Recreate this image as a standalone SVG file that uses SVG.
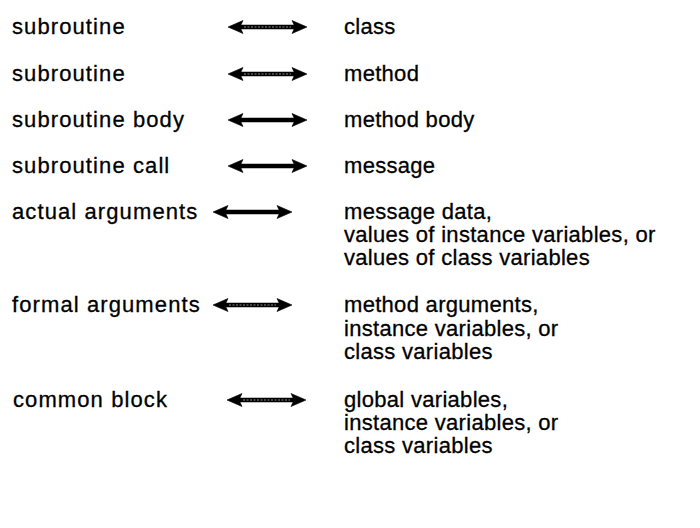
<svg xmlns="http://www.w3.org/2000/svg" width="700" height="528" viewBox="0 0 700 528">
  <defs>
    <style>
      text { font-family: "Liberation Sans", Arial, sans-serif; font-size: 22px; fill: #000; stroke: #000; stroke-width: 0.3px; }
      .lhs { letter-spacing: 1.1px; }
      .rhs { letter-spacing: 0.3px; }
      .shaft { stroke: #000; stroke-width: 4.5; }
      .core { stroke: #8c8c8c; stroke-width: 1; stroke-dasharray: 2 1.5; }
    </style>
    <!-- double-headed arrow, 79px long, drawn about its centre line -->
    <g id="dbl">
      <line class="shaft" x1="10" y1="0" x2="69" y2="0"/>
      <path d="M0 0 L15 -6.5 L12 0 L15 6.5 Z" fill="#000" stroke="#000" stroke-width="0.6" stroke-linejoin="round"/>
      <path d="M79 0 L64 -6.5 L67 0 L64 6.5 Z" fill="#000" stroke="#000" stroke-width="0.6" stroke-linejoin="round"/>
    </g>
    <g id="dbl-dotted">
      <use href="#dbl"/>
      <line class="core" x1="16" y1="0" x2="63" y2="0"/>
    </g>
  </defs>
  <rect width="700" height="528" fill="#fff"/>

  <g id="left-terms">
    <g id="n-subroutine-1"><text class="lhs" x="12" y="34">subroutine</text></g>
    <g id="n-subroutine-2"><text class="lhs" x="12" y="81">subroutine</text></g>
    <g id="n-subroutine-body"><text class="lhs" x="12" y="127">subroutine body</text></g>
    <g id="n-subroutine-call"><text class="lhs" x="12" y="173">subroutine call</text></g>
    <g id="n-actual-arguments"><text class="lhs" x="12" y="219">actual arguments</text></g>
    <g id="n-formal-arguments"><text class="lhs" x="12" y="312">formal arguments</text></g>
    <g id="n-common-block"><text class="lhs" x="13" y="407">common block</text></g>
  </g>

  <g id="right-terms">
    <g id="n-class"><text class="rhs" x="344" y="34">class</text></g>
    <g id="n-method"><text class="rhs" x="344" y="81">method</text></g>
    <g id="n-method-body"><text class="rhs" x="344" y="127">method body</text></g>
    <g id="n-message"><text class="rhs" x="344" y="173">message</text></g>
    <g id="n-message-data">
      <text class="rhs" x="344" y="219">message data,</text>
      <text class="rhs" x="344" y="242">values of instance variables, or</text>
      <text class="rhs" x="344" y="265">values of class variables</text>
    </g>
    <g id="n-method-arguments">
      <text class="rhs" x="344" y="312">method arguments,</text>
      <text class="rhs" x="344" y="336">instance variables, or</text>
      <text class="rhs" x="344" y="359">class variables</text>
    </g>
    <g id="n-global-variables">
      <text class="rhs" x="344" y="407">global variables,</text>
      <text class="rhs" x="344" y="430">instance variables, or</text>
      <text class="rhs" x="344" y="453">class variables</text>
    </g>
  </g>

  <g id="connectors">
    <use href="#dbl-dotted" x="228" y="27"/>
    <use href="#dbl-dotted" x="228" y="74"/>
    <use href="#dbl" x="228" y="120"/>
    <use href="#dbl" x="228" y="166"/>
    <use href="#dbl" x="213" y="212"/>
    <use href="#dbl-dotted" x="213" y="305"/>
    <use href="#dbl-dotted" x="227" y="400"/>
  </g>
</svg>
